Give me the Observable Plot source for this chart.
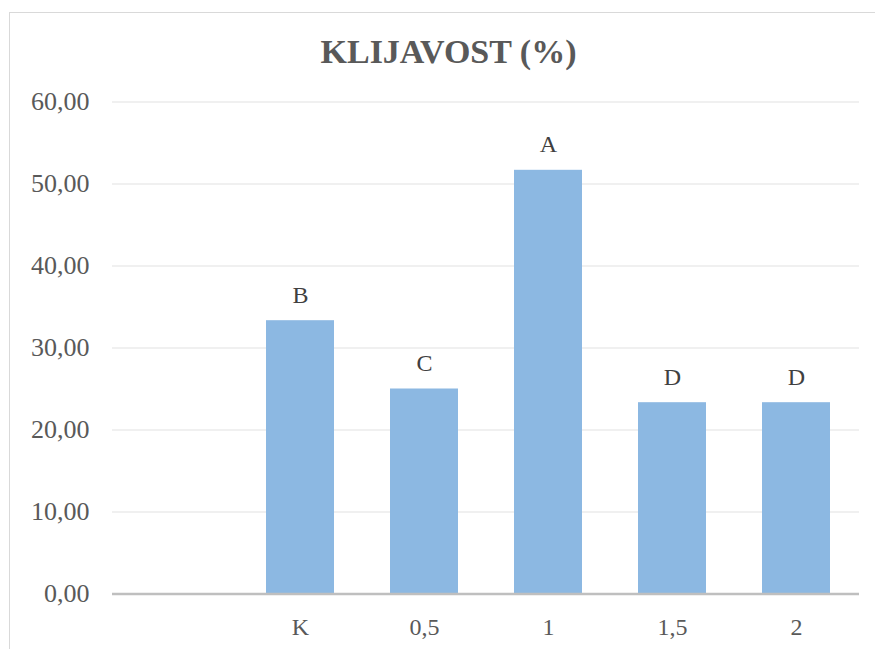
<!DOCTYPE html>
<html>
<head>
<meta charset="utf-8">
<script src="https://cdn.jsdelivr.net/npm/d3@7"></script>
<script src="https://cdn.jsdelivr.net/npm/@observablehq/plot@0.6"></script>
<style>
  html, body { margin: 0; padding: 0; background: #fff; overflow: hidden; }
  #wrap { position: relative; width: 875px; height: 649px; overflow: hidden; }
  #frame { position: absolute; left: 9px; top: 12px; width: 900px; height: 700px;
           border: 1.5px solid #d9d9d9; box-sizing: border-box; }
  #title { position: relative; height: 80px; box-sizing: border-box; padding-top: 34.5px;
           padding-left: 22px; text-align: center;
           font-family: "Liberation Serif", "Tinos", "Times New Roman", "DejaVu Serif", serif;
           font-weight: bold; font-size: 34px; line-height: 1; color: #595959; }
  #chart { position: relative; }
  #chart svg, #chart svg text { font-family: "Liberation Serif", "Tinos", "Times New Roman", "DejaVu Serif", serif !important; }
</style>
</head>
<body>
<div id="wrap">
  <div id="frame"></div>
  <div id="title">KLIJAVOST (%)</div>
  <div id="chart"></div>
</div>
<script>
const categories = ["", "K", "0,5", "1", "1,5", "2"];
const values = [null, 33.33, 25.00, 51.67, 23.33, 23.33];
const letters = ["", "B", "C", "A", "D", "D"];
const yTicks = [0, 10, 20, 30, 40, 50, 60];

const data = categories.map((c, i) => ({cat: c, value: values[i], letter: letters[i]}))
  .filter(d => d.value != null);

const fmt = d => d.toFixed(2).replace(".", ",");
const serif = "'Liberation Serif', Tinos, 'Times New Roman', 'DejaVu Serif', serif";

const plot = Plot.plot({
  width: 875,
  height: 569,
  marginLeft: 112,
  marginRight: 16,
  marginTop: 21.5,
  marginBottom: 55.5,
  style: {fontFamily: serif, background: "transparent"},
  x: {domain: categories, paddingInner: 0.454, paddingOuter: 0.227, label: null},
  y: {domain: [0, 60], label: null},
  marks: [
    Plot.gridY(yTicks, {stroke: "#ebebeb", strokeOpacity: 1, strokeWidth: 1.5}),
    Plot.barY(data, {x: "cat", y: "value", fill: "#8cb8e2"}),
    Plot.ruleY([0], {stroke: "#bfbfbf", strokeWidth: 2.5}),
    Plot.text(data, {x: "cat", y: "value", text: "letter", lineAnchor: "bottom", dy: -18,
      fontSize: 24, fill: "#404040"}),
    Plot.axisY({ticks: yTicks, tickFormat: fmt, tickSize: 0, tickPadding: 23, fontSize: 26,
      fill: "#595959", label: null}),
    Plot.axisX({tickSize: 0, tickPadding: 23.5, fontSize: 24, fill: "#595959", label: null})
  ]
});
document.getElementById("chart").appendChild(plot);
</script>
</body>
</html>
